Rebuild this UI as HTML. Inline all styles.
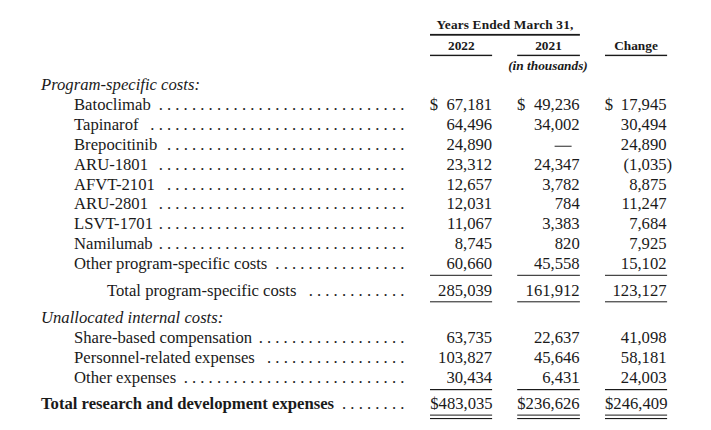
<!DOCTYPE html>
<html><head><meta charset="utf-8"><style>
html,body{margin:0;padding:0;background:#fff;}
body{width:711px;height:430px;position:relative;overflow:hidden;}
.t{position:absolute;white-space:nowrap;line-height:20px;height:20px;font-family:"Liberation Serif",serif;color:#1a1a1a;}
.r{font-weight:normal;font-style:normal;}
.i{font-style:italic;}
.b{font-weight:bold;}
.bi{font-weight:bold;font-style:italic;}
.sv{position:absolute;left:0;top:0;fill:#1a1a1a;}
</style></head><body>
<div class="t b" style="left:405.00px;width:200px;top:15.40px;font-size:13.3333px;text-align:center;letter-spacing:0.15px">Years Ended March 31,</div>
<div class="t b" style="left:361.30px;width:200px;top:36.40px;font-size:13.3333px;text-align:center;">2022</div>
<div class="t b" style="left:448.50px;width:200px;top:36.40px;font-size:13.3333px;text-align:center;">2021</div>
<div class="t b" style="left:536.00px;width:200px;top:36.40px;font-size:13.3333px;text-align:center;">Change</div>
<div class="t bi" style="left:448.00px;width:200px;top:56.10px;font-size:13.3333px;text-align:center;">(in thousands)</div>
<div class="t i" style="left:41.00px;top:75.07px;font-size:16.6667px;">Program-specific costs:</div>
<div class="t r" style="left:74.00px;top:95.27px;font-size:16.6667px;">Batoclimab</div>
<div class="t r" style="left:158.63px;top:95.27px;font-size:16.6667px;letter-spacing:4.1666px">..............................</div>
<div class="t r" style="left:429.70px;top:95.27px;font-size:16.6667px;">$</div>
<div class="t r" style="right:218.80px;top:95.27px;font-size:16.6667px;text-align:right;">67,181</div>
<div class="t r" style="left:517.00px;top:95.27px;font-size:16.6667px;">$</div>
<div class="t r" style="right:131.30px;top:95.27px;font-size:16.6667px;text-align:right;">49,236</div>
<div class="t r" style="left:604.70px;top:95.27px;font-size:16.6667px;">$</div>
<div class="t r" style="right:44.40px;top:95.27px;font-size:16.6667px;text-align:right;">17,945</div>
<div class="t r" style="left:74.00px;top:115.07px;font-size:16.6667px;">Tapinarof</div>
<div class="t r" style="left:150.30px;top:115.07px;font-size:16.6667px;letter-spacing:4.1666px">...............................</div>
<div class="t r" style="right:218.80px;top:115.07px;font-size:16.6667px;text-align:right;">64,496</div>
<div class="t r" style="right:131.30px;top:115.07px;font-size:16.6667px;text-align:right;">34,002</div>
<div class="t r" style="right:44.40px;top:115.07px;font-size:16.6667px;text-align:right;">30,494</div>
<div class="t r" style="left:74.00px;top:134.77px;font-size:16.6667px;">Brepocitinib</div>
<div class="t r" style="left:166.97px;top:134.77px;font-size:16.6667px;letter-spacing:4.1666px">.............................</div>
<div class="t r" style="right:218.80px;top:134.77px;font-size:16.6667px;text-align:right;">24,890</div>
<div class="t r" style="right:44.40px;top:134.77px;font-size:16.6667px;text-align:right;">24,890</div>
<div class="t r" style="left:74.00px;top:154.67px;font-size:16.6667px;">ARU-1801</div>
<div class="t r" style="left:158.63px;top:154.67px;font-size:16.6667px;letter-spacing:4.1666px">..............................</div>
<div class="t r" style="right:218.80px;top:154.67px;font-size:16.6667px;text-align:right;">23,312</div>
<div class="t r" style="right:131.30px;top:154.67px;font-size:16.6667px;text-align:right;">24,347</div>
<div class="t r" style="right:38.90px;top:154.67px;font-size:16.6667px;text-align:right;">(1,035)</div>
<div class="t r" style="left:74.00px;top:174.57px;font-size:16.6667px;">AFVT-2101</div>
<div class="t r" style="left:166.97px;top:174.57px;font-size:16.6667px;letter-spacing:4.1666px">.............................</div>
<div class="t r" style="right:218.80px;top:174.57px;font-size:16.6667px;text-align:right;">12,657</div>
<div class="t r" style="right:131.30px;top:174.57px;font-size:16.6667px;text-align:right;">3,782</div>
<div class="t r" style="right:44.40px;top:174.57px;font-size:16.6667px;text-align:right;">8,875</div>
<div class="t r" style="left:74.00px;top:194.47px;font-size:16.6667px;">ARU-2801</div>
<div class="t r" style="left:158.63px;top:194.47px;font-size:16.6667px;letter-spacing:4.1666px">..............................</div>
<div class="t r" style="right:218.80px;top:194.47px;font-size:16.6667px;text-align:right;">12,031</div>
<div class="t r" style="right:131.30px;top:194.47px;font-size:16.6667px;text-align:right;">784</div>
<div class="t r" style="right:44.40px;top:194.47px;font-size:16.6667px;text-align:right;">11,247</div>
<div class="t r" style="left:74.00px;top:214.37px;font-size:16.6667px;">LSVT-1701</div>
<div class="t r" style="left:158.63px;top:214.37px;font-size:16.6667px;letter-spacing:4.1666px">..............................</div>
<div class="t r" style="right:218.80px;top:214.37px;font-size:16.6667px;text-align:right;">11,067</div>
<div class="t r" style="right:131.30px;top:214.37px;font-size:16.6667px;text-align:right;">3,383</div>
<div class="t r" style="right:44.40px;top:214.37px;font-size:16.6667px;text-align:right;">7,684</div>
<div class="t r" style="left:74.00px;top:234.27px;font-size:16.6667px;">Namilumab</div>
<div class="t r" style="left:158.63px;top:234.27px;font-size:16.6667px;letter-spacing:4.1666px">..............................</div>
<div class="t r" style="right:218.80px;top:234.27px;font-size:16.6667px;text-align:right;">8,745</div>
<div class="t r" style="right:131.30px;top:234.27px;font-size:16.6667px;text-align:right;">820</div>
<div class="t r" style="right:44.40px;top:234.27px;font-size:16.6667px;text-align:right;">7,925</div>
<div class="t r" style="left:74.00px;top:254.07px;font-size:16.6667px;">Other program-specific costs</div>
<div class="t r" style="left:275.30px;top:254.07px;font-size:16.6667px;letter-spacing:4.1666px">................</div>
<div class="t r" style="right:218.80px;top:254.07px;font-size:16.6667px;text-align:right;">60,660</div>
<div class="t r" style="right:131.30px;top:254.07px;font-size:16.6667px;text-align:right;">45,558</div>
<div class="t r" style="right:44.40px;top:254.07px;font-size:16.6667px;text-align:right;">15,102</div>
<div class="t r" style="left:107.00px;top:281.27px;font-size:16.6667px;">Total program-specific costs</div>
<div class="t r" style="left:308.63px;top:281.27px;font-size:16.6667px;letter-spacing:4.1666px">............</div>
<div class="t r" style="right:218.80px;top:281.07px;font-size:16.6667px;text-align:right;">285,039</div>
<div class="t r" style="right:131.30px;top:281.07px;font-size:16.6667px;text-align:right;">161,912</div>
<div class="t r" style="right:44.40px;top:281.07px;font-size:16.6667px;text-align:right;">123,127</div>
<div class="t i" style="left:41.00px;top:308.07px;font-size:16.6667px;">Unallocated internal costs:</div>
<div class="t r" style="left:74.00px;top:328.17px;font-size:16.6667px;">Share-based compensation</div>
<div class="t r" style="left:258.63px;top:328.17px;font-size:16.6667px;letter-spacing:4.1666px">..................</div>
<div class="t r" style="right:218.80px;top:328.17px;font-size:16.6667px;text-align:right;">63,735</div>
<div class="t r" style="right:131.30px;top:328.17px;font-size:16.6667px;text-align:right;">22,637</div>
<div class="t r" style="right:44.40px;top:328.17px;font-size:16.6667px;text-align:right;">41,098</div>
<div class="t r" style="left:74.00px;top:348.27px;font-size:16.6667px;">Personnel-related expenses</div>
<div class="t r" style="left:266.97px;top:348.27px;font-size:16.6667px;letter-spacing:4.1666px">.................</div>
<div class="t r" style="right:218.80px;top:348.27px;font-size:16.6667px;text-align:right;">103,827</div>
<div class="t r" style="right:131.30px;top:348.27px;font-size:16.6667px;text-align:right;">45,646</div>
<div class="t r" style="right:44.40px;top:348.27px;font-size:16.6667px;text-align:right;">58,181</div>
<div class="t r" style="left:74.00px;top:367.87px;font-size:16.6667px;">Other expenses</div>
<div class="t r" style="left:183.63px;top:367.87px;font-size:16.6667px;letter-spacing:4.1666px">...........................</div>
<div class="t r" style="right:218.80px;top:367.87px;font-size:16.6667px;text-align:right;">30,434</div>
<div class="t r" style="right:131.30px;top:367.87px;font-size:16.6667px;text-align:right;">6,431</div>
<div class="t r" style="right:44.40px;top:367.87px;font-size:16.6667px;text-align:right;">24,003</div>
<div class="t b" style="left:41.00px;top:394.37px;font-size:16.6667px;">Total research and development expenses</div>
<div class="t r" style="left:341.97px;top:394.37px;font-size:16.6667px;letter-spacing:4.1666px">........</div>
<div class="t r" style="right:218.30px;top:394.37px;font-size:16.6667px;text-align:right;">$483,035</div>
<div class="t r" style="right:131.30px;top:394.37px;font-size:16.6667px;text-align:right;">$236,626</div>
<div class="t r" style="right:43.50px;top:394.37px;font-size:16.6667px;text-align:right;">$246,409</div>
<svg class="sv" width="711" height="430" viewBox="0 0 711 430"><rect x="430.00" y="33.90" width="149.90" height="1.8"/><rect x="430.00" y="54.70" width="62.10" height="1.4"/><rect x="517.20" y="54.70" width="62.70" height="1.4"/><rect x="605.00" y="54.70" width="62.10" height="1.4"/><rect x="554.6" y="145.75" width="17.0" height="0.95"/><rect x="430.00" y="274.80" width="62.10" height="1.0"/><rect x="517.20" y="274.80" width="62.70" height="1.0"/><rect x="605.00" y="274.80" width="62.10" height="1.0"/><rect x="430.00" y="301.30" width="62.10" height="1.0"/><rect x="517.20" y="301.30" width="62.70" height="1.0"/><rect x="605.00" y="301.30" width="62.10" height="1.0"/><rect x="430.00" y="389.00" width="62.10" height="1.2"/><rect x="517.20" y="389.00" width="62.70" height="1.2"/><rect x="605.00" y="389.00" width="62.10" height="1.2"/><rect x="430.00" y="414.60" width="62.10" height="1.0"/><rect x="517.20" y="414.60" width="62.70" height="1.0"/><rect x="605.00" y="414.60" width="62.10" height="1.0"/><rect x="430.00" y="418.00" width="62.10" height="1.1"/><rect x="517.20" y="418.00" width="62.70" height="1.1"/><rect x="605.00" y="418.00" width="62.10" height="1.1"/></svg>
</body></html>
